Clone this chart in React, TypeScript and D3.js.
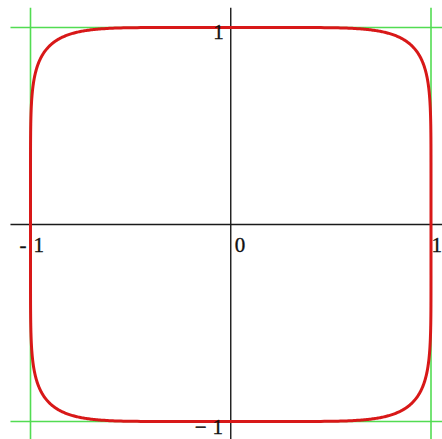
import React from "react";
import * as d3 from "d3";

// Superellipse |x|^n + |y|^n = 1 with its bounding lines x = ±1, y = ±1
const EXPONENT = 7;
const SAMPLES = 720;
const boundValues = [-1, 1];
const extent = [-1.1, 1.1];

const W = 442;
const H = 439;

export default function App() {
  const x = d3.scaleLinear().domain([-1, 1]).range([30.5, 431]);
  const y = d3.scaleLinear().domain([-1, 1]).range([421.5, 27.5]);

  const angles = d3.range(SAMPLES + 1).map((i) => (i / SAMPLES) * 2 * Math.PI);
  const pts: [number, number][] = angles.map((t) => {
    const c = Math.cos(t);
    const s = Math.sin(t);
    return [
      Math.sign(c) * Math.pow(Math.abs(c), 2 / EXPONENT),
      Math.sign(s) * Math.pow(Math.abs(s), 2 / EXPONENT),
    ];
  });
  const line = d3
    .line<[number, number]>()
    .x((d) => x(d[0]))
    .y((d) => y(d[1]));

  const font = {
    fontFamily: "'Liberation Serif', 'DejaVu Serif', serif",
    fontSize: 21,
    fill: "#111",
    stroke: "#111",
    strokeWidth: 0.35,
  };

  return (
    <div style={{ position: "fixed", left: 0, top: 0, width: W, height: H, background: "#fff" }}>
      <svg width={W} height={H} style={{ display: "block" }}>
        {/* bounding lines */}
        {boundValues.map((v) => (
          <line key={"gv" + v} x1={x(v)} x2={x(v)} y1={y(extent[1])} y2={y(extent[0])} stroke="#52dc52" strokeWidth={1.6} />
        ))}
        {boundValues.map((v) => (
          <line key={"gh" + v} x1={x(extent[0])} x2={x(extent[1])} y1={y(v)} y2={y(v)} stroke="#52dc52" strokeWidth={1.6} />
        ))}
        {/* axes */}
        <line x1={x(extent[0])} x2={x(extent[1])} y1={y(0)} y2={y(0)} stroke="#1a1a1a" strokeWidth={1.4} />
        <line x1={x(0)} x2={x(0)} y1={y(extent[1])} y2={y(extent[0])} stroke="#1a1a1a" strokeWidth={1.4} />
        {/* curve */}
        <path d={line(pts) ?? ""} fill="none" stroke="#d81818" strokeWidth={3} strokeLinejoin="round" />
        {/* labels */}
        <text x={x(0) - 7} y={y(1) + 11} textAnchor="end" {...font}>1</text>
        <text x={x(0) + 4} y={y(0) + 27} {...font}>0</text>
        <text x={x(1) + 0.5} y={y(0) + 27} {...font}>1</text>
        <text x={x(-1) - 11} y={y(0) + 27} {...font}>-<tspan dx={7}>1</tspan></text>
        <text x={x(0) - 36} y={y(-1) + 12} {...font}>−<tspan dx={6}>1</tspan></text>
      </svg>
    </div>
  );
}
